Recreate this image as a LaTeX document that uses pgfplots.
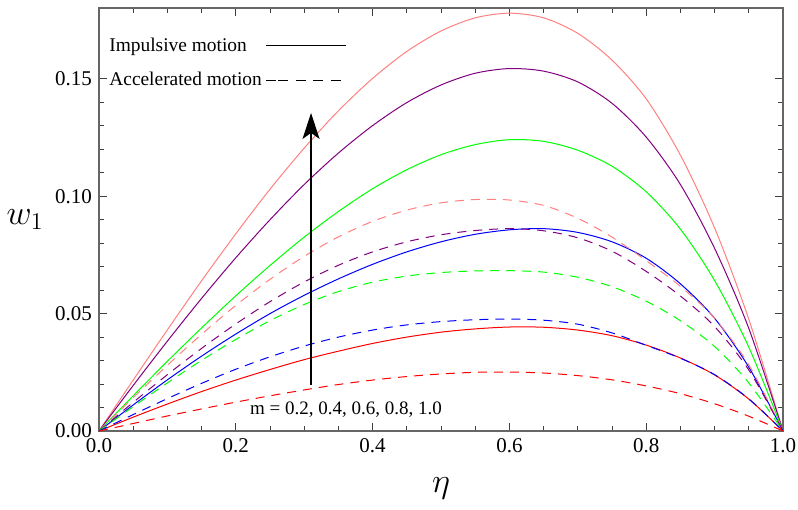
\documentclass[border=0pt]{standalone}
\usepackage{fontspec}
\setmainfont{Liberation Serif}
\usepackage{pgfplots}
\pgfplotsset{compat=1.18}
\usetikzlibrary{arrows.meta,calc}
\definecolor{cpink}{rgb}{1,0.5,0.5}
\definecolor{cpurple}{rgb}{0.5,0,0.5}
\definecolor{cgreen}{rgb}{0,1,0}
\definecolor{cblue}{rgb}{0,0,1}
\definecolor{cred}{rgb}{1,0,0}
\definecolor{cframe}{gray}{0.4}
\begin{document}
\begin{tikzpicture}
\begin{axis}[name=ax, scale only axis, width=342pt, height=211.5pt,
  xmin=0, xmax=1, ymin=0, ymax=0.1802,
  xtick={0,0.2,0.4,0.6,0.8,1.0}, minor x tick num=3,
  ytick={0,0.05,0.10,0.15}, minor y tick num=4,
  scaled x ticks=false, scaled y ticks=false,
  xticklabel style={/pgf/number format/.cd,fixed,fixed zerofill,precision=1,assume math mode=true},
  yticklabel style={/pgf/number format/.cd,fixed,fixed zerofill,precision=2,assume math mode=true},
  ticklabel style={font=\fontsize{10.5}{12}\selectfont},
  tick align=inside, major tick length=4pt, minor tick length=2.5pt,
  axis line style={cframe, line width=0.6pt},
  every tick/.style={black!75, line width=0.5pt},
  xlabel={$\eta$}, ylabel={$w_1$},
  xlabel style={font=\fontsize{17}{20}\selectfont, at={(axis description cs:0.5,-0.135)}, anchor=center},
  ylabel style={font=\fontsize{17}{20}\selectfont, rotate=-90, at={(axis description cs:-0.108,0.5)}, anchor=center},
  legend plot pos=right,
  legend image code/.code={\path (0pt,0pt) -- (6pt,0pt); \draw[#1] (6pt,0pt) -- (40pt,0pt);},
  legend style={at={(axis description cs:0.0,0.95)}, anchor=north west, draw=none, fill=none,
    font=\fontsize{9.7}{11}\selectfont, row sep=5pt, cells={anchor=west}},
  every axis plot/.append style={line width=0.5pt, smooth, forget plot},
  dsh/.style={dash pattern=on 4.5pt off 3.5pt},
]
\addlegendimage{black, line width=0.5pt}
\addlegendentry{Impulsive motion}
\addlegendimage{black, line width=0.5pt, dash pattern=on 5pt off 3.7pt}
\addlegendentry{Accelerated motion}

% Impulsive motion (solid)
\addplot[cpink] coordinates {
(0,0) (0.05,0.0217) (0.1,0.0431) (0.15,0.0640) (0.2,0.0840) (0.25,0.1030) (0.3,0.1205) (0.35,0.1364) (0.4,0.1502) (0.45,0.1617) (0.5,0.1704) (0.55,0.1760) (0.6,0.1780) (0.65,0.1760) (0.7,0.1694) (0.75,0.1580) (0.8,0.1415) (0.85,0.1175) (0.9,0.0865) (0.95,0.0476) (1,0)};
\addplot[cpurple] coordinates {
(0,0) (0.05,0.0194) (0.1,0.0383) (0.15,0.0565) (0.2,0.0738) (0.25,0.0900) (0.3,0.1050) (0.35,0.1184) (0.4,0.1301) (0.45,0.1399) (0.5,0.1474) (0.55,0.1524) (0.6,0.1544) (0.65,0.1533) (0.7,0.1487) (0.75,0.1396) (0.8,0.1252) (0.85,0.1050) (0.9,0.0778) (0.95,0.0437) (1,0)};
\addplot[cgreen] coordinates {
(0,0) (0.05,0.0150) (0.1,0.0297) (0.15,0.0439) (0.2,0.0576) (0.25,0.0705) (0.3,0.0826) (0.35,0.0935) (0.4,0.1032) (0.45,0.1113) (0.5,0.1177) (0.55,0.1220) (0.6,0.1241) (0.65,0.1234) (0.7,0.1196) (0.75,0.1128) (0.8,0.1019) (0.85,0.0860) (0.9,0.0641) (0.95,0.0357) (1,0)};
\addplot[cblue] coordinates {
(0,0) (0.05,0.0111) (0.1,0.0218) (0.15,0.0319) (0.2,0.0413) (0.25,0.0500) (0.3,0.0578) (0.35,0.0648) (0.4,0.0710) (0.45,0.0763) (0.5,0.0806) (0.55,0.0838) (0.6,0.0857) (0.65,0.0862) (0.7,0.0846) (0.75,0.0806) (0.8,0.0736) (0.85,0.0627) (0.9,0.0480) (0.95,0.0272) (1,0)};
\addplot[cred] coordinates {
(0,0) (0.05,0.0059) (0.1,0.0115) (0.15,0.0168) (0.2,0.0217) (0.25,0.0262) (0.3,0.0304) (0.35,0.0340) (0.4,0.0373) (0.45,0.0400) (0.5,0.0421) (0.55,0.0435) (0.6,0.0443) (0.65,0.0442) (0.7,0.0430) (0.75,0.0406) (0.8,0.0366) (0.85,0.0311) (0.9,0.0239) (0.95,0.0136) (1,0)};

% Accelerated motion (dashed)
\addplot[cpink, dsh] coordinates {
(0,0) (0.05,0.0142) (0.1,0.0280) (0.15,0.0412) (0.2,0.0535) (0.25,0.0646) (0.3,0.0744) (0.35,0.0827) (0.4,0.0893) (0.45,0.0941) (0.5,0.0972) (0.55,0.0986) (0.6,0.0984) (0.65,0.0961) (0.7,0.0906) (0.75,0.0826) (0.8,0.0726) (0.85,0.0616) (0.9,0.0480) (0.95,0.0282) (1,0)};
\addplot[cpurple, dsh] coordinates {
(0,0) (0.05,0.0122) (0.1,0.0240) (0.15,0.0352) (0.2,0.0456) (0.25,0.0551) (0.3,0.0635) (0.35,0.0706) (0.4,0.0763) (0.45,0.0806) (0.5,0.0836) (0.55,0.0854) (0.6,0.0862) (0.65,0.0853) (0.7,0.0823) (0.75,0.0766) (0.8,0.0680) (0.85,0.0575) (0.9,0.0445) (0.95,0.0260) (1,0)};
\addplot[cgreen, dsh] coordinates {
(0,0) (0.05,0.0104) (0.1,0.0205) (0.15,0.0301) (0.2,0.0390) (0.25,0.0470) (0.3,0.0539) (0.35,0.0594) (0.4,0.0634) (0.45,0.0660) (0.5,0.0675) (0.55,0.0682) (0.6,0.0683) (0.65,0.0677) (0.7,0.0655) (0.75,0.0615) (0.8,0.0553) (0.85,0.0470) (0.9,0.0360) (0.95,0.0205) (1,0)};
\addplot[cblue, dsh] coordinates {
(0,0) (0.05,0.0070) (0.1,0.0138) (0.15,0.0203) (0.2,0.0263) (0.25,0.0316) (0.3,0.0362) (0.35,0.0400) (0.4,0.0430) (0.45,0.0452) (0.5,0.0466) (0.55,0.0474) (0.6,0.0477) (0.65,0.0472) (0.7,0.0455) (0.75,0.0418) (0.8,0.0365) (0.85,0.0310) (0.9,0.0240) (0.95,0.0137) (1,0)};
\addplot[cred, dsh] coordinates {
(0,0) (0.05,0.0032) (0.1,0.0064) (0.15,0.0094) (0.2,0.0123) (0.25,0.0150) (0.3,0.0175) (0.35,0.0198) (0.4,0.0217) (0.45,0.0232) (0.5,0.0243) (0.55,0.0250) (0.6,0.0251) (0.65,0.0247) (0.7,0.0236) (0.75,0.0218) (0.8,0.0192) (0.85,0.0159) (0.9,0.0116) (0.95,0.0063) (1,0)};

\draw[-{Stealth[length=13pt,width=8.5pt,inset=3pt]}, line width=0.6pt] (axis cs:0.31,0.0196) -- (axis cs:0.31,0.1355);
\node[font=\fontsize{9.5}{11}\selectfont] at (axis cs:0.361,0.0089) {m = 0.2, 0.4, 0.6, 0.8, 1.0};
\end{axis}
\pgfresetboundingbox
\path ($(ax.south west)+(-49.5pt,-39pt)$) rectangle ($(ax.north east)+(7.5pt,4pt)$);
\end{tikzpicture}
\end{document}
